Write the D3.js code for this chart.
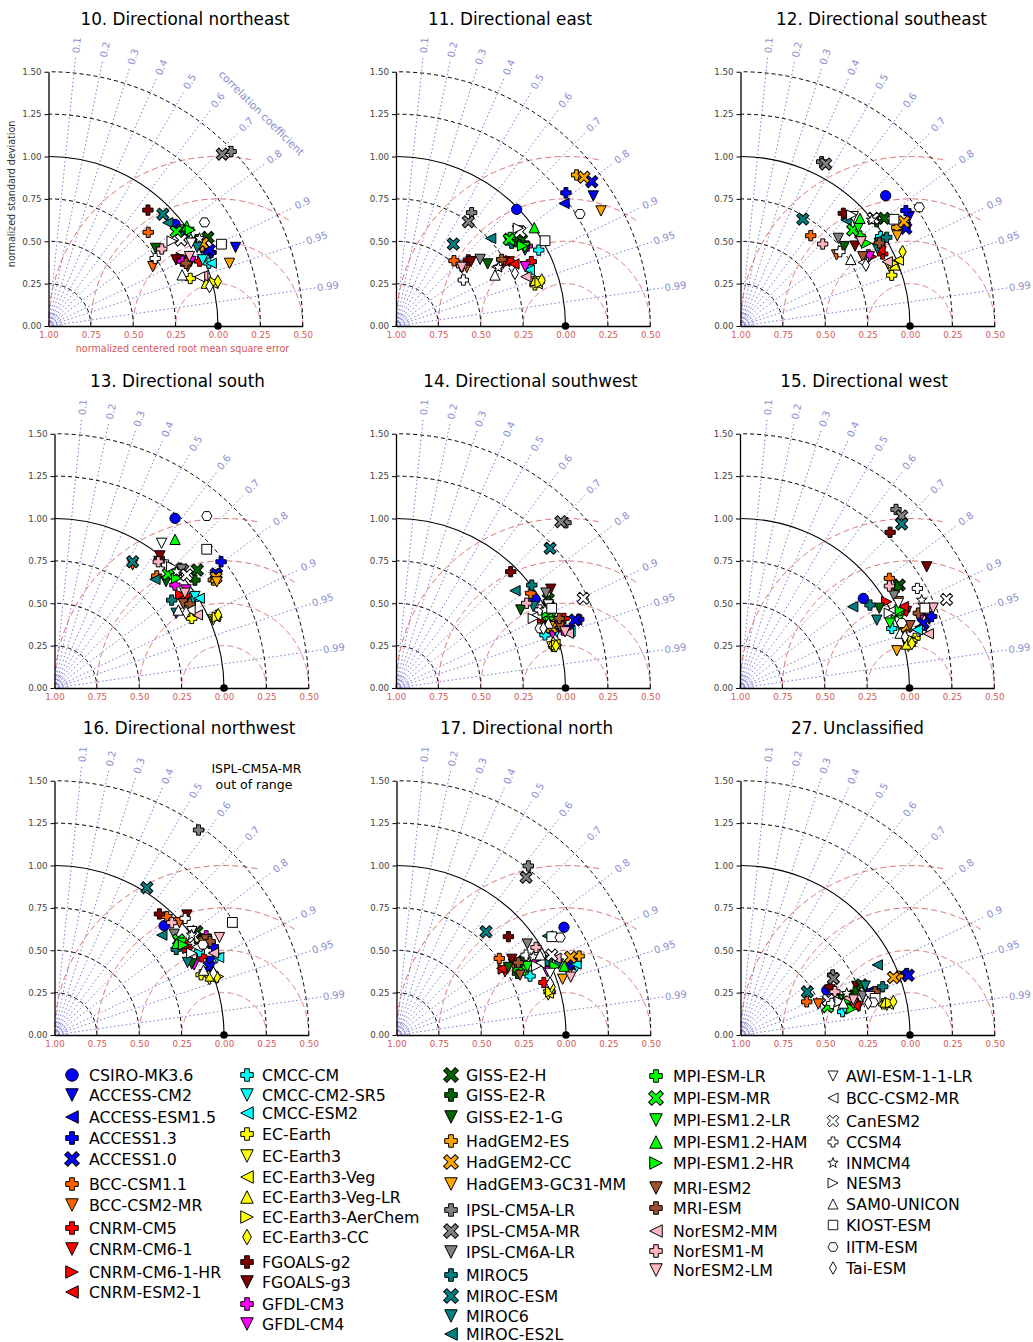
<!DOCTYPE html>
<html><head><meta charset="utf-8">
<script src="https://cdn.jsdelivr.net/npm/d3@7"></script>
<style>body{margin:0;background:#fff;} svg{font-family:"DejaVu Sans",sans-serif;}</style>
</head><body><svg id="chart" width="1033" height="1342"></svg>
<script>
// ---------- data ----------
const models = ["CSIRO-MK3.6","ACCESS-CM2","ACCESS-ESM1.5","ACCESS1.3","ACCESS1.0","BCC-CSM1.1","BCC-CSM2-MR","CNRM-CM5","CNRM-CM6-1","CNRM-CM6-1-HR","CNRM-ESM2-1","CMCC-CM","CMCC-CM2-SR5","CMCC-ESM2","EC-Earth","EC-Earth3","EC-Earth3-Veg","EC-Earth3-Veg-LR","EC-Earth3-AerChem","EC-Earth3-CC","FGOALS-g2","FGOALS-g3","GFDL-CM3","GFDL-CM4","GISS-E2-H","GISS-E2-R","GISS-E2-1-G","HadGEM2-ES","HadGEM2-CC","HadGEM3-GC31-MM","IPSL-CM5A-LR","IPSL-CM5A-MR","IPSL-CM6A-LR","MIROC5","MIROC-ESM","MIROC6","MIROC-ES2L","MPI-ESM-LR","MPI-ESM-MR","MPI-ESM1.2-LR","MPI-ESM1.2-HAM","MPI-ESM1.2-HR","MRI-ESM2","MRI-ESM","NorESM2-MM","NorESM1-M","NorESM2-LM","AWI-ESM-1-1-LR","BCC-CSM2-MR","CanESM2","CCSM4","INMCM4","NESM3","SAM0-UNICON","KIOST-ESM","IITM-ESM","Tai-ESM"];
const markerShapes = ["o","v","<","P","X","P","v","P","v",">","<","P","v","<","P","v","<","^",">","d","P","v","P","v","X","P","v","P","X","v","P","X","v","P","X","v","<","P","X","v","^",">","v","P","<","P","v","v","<","X","P","*",">","^","s","H","d"];
const markerColors = ["#0000ff","#0000ff","#0000ff","#0000ff","#0000ff","#ff6400","#ff6400","#ff0000","#ff0000","#ff0000","#ff0000","#00ffff","#00ffff","#00ffff","#ffff00","#ffff00","#ffff00","#ffff00","#ffff00","#ffff00","#800000","#800000","#ff00ff","#ff00ff","#006400","#006400","#006400","#ffa500","#ffa500","#ffa500","#808080","#808080","#808080","#008080","#008080","#008080","#008080","#00ff00","#00ff00","#00ff00","#00ff00","#00ff00","#a0522d","#a0522d","#ffb6c1","#ffb6c1","#ffb6c1","#ffffff","#ffffff","#ffffff","#ffffff","#ffffff","#ffffff","#ffffff","#ffffff","#ffffff","#ffffff"];
const panelTitles = ["10. Directional northeast","11. Directional east","12. Directional southeast","13. Directional south","14. Directional southwest","15. Directional west","16. Directional northwest","17. Directional north","27. Unclassified"];
const correlationTicks = [0.1,0.2,0.3,0.4,0.5,0.6,0.7,0.8,0.9,0.95,0.99];
const stdTicks = [0,0.25,0.5,0.75,1.0,1.25,1.5];

// normalized standard deviation / correlation, one pair of arrays per panel (model order as above)
const stdNE = [.958,1.197,1.025,1.053,1.050,.807,.708,.970,.874,.881,.858,1.016,.990,1.029,.882,.971,1.002,.964,1.012,1.033,.901,.848,.877,.923,1.076,1.013,.781,1.022,1.033,1.130,1.490,1.442,.968,.949,.944,.992,.931,.990,.937,.996,1.007,1.010,.893,.892,.957,.808,.927,.973,.937,.933,.745,1.030,.885,.844,1.129,1.105,.978];
const corNE = [.780,.922,.904,.911,.904,.729,.869,.919,.896,.889,.889,.931,.919,.933,.948,.968,.968,.965,.967,.967,.651,.888,.900,.911,.874,.864,.810,.887,.881,.945,.723,.711,.811,.831,.715,.884,.756,.820,.804,.832,.810,.828,.920,.910,.951,.827,.897,.865,.951,.839,.845,.865,.824,.934,.904,.833,.971];
const stdE = [.990,1.394,1.227,1.274,1.435,.515,.542,.884,.768,.779,.786,.954,.848,.853,.855,.870,.870,.864,.887,.901,.578,.583,.907,.839,.898,.865,.653,1.389,1.414,1.387,.804,.749,.633,.839,.590,.883,.761,.852,.841,.891,1.001,.884,.733,.737,.820,.525,.520,.910,.689,.919,.481,.696,.924,.657,1.013,1.271,.768];
const corE = [.719,.835,.808,.787,.805,.664,.770,.903,.870,.869,.885,.883,.921,.922,.959,.954,.958,.950,.958,.954,.739,.759,.854,.909,.825,.818,.828,.767,.784,.872,.555,.570,.784,.813,.573,.862,.734,.790,.794,.854,.815,.845,.863,.846,.935,.739,.746,.787,.862,.796,.826,.868,.781,.889,.868,.854,.914];
const stdSE = [1.151,1.187,1.134,1.190,1.133,.675,.705,.940,.938,.875,.937,.981,.953,.969,.941,.945,1.009,.980,.974,1.052,.900,.824,.863,.863,1.059,1.012,.771,1.090,1.144,1.067,1.081,1.080,.775,1.009,.730,.928,.882,.883,.871,.907,.949,.890,.829,.955,.945,.685,.868,.927,.815,1.009,.732,.995,.927,.760,1.103,1.266,.823];
const corSE = [.744,.839,.856,.820,.861,.614,.804,.892,.884,.884,.878,.843,.859,.849,.948,.929,.923,.930,.925,.909,.674,.820,.874,.881,.800,.794,.794,.846,.843,.867,.443,.465,.745,.855,.503,.870,.706,.799,.760,.767,.743,.836,.870,.858,.916,.708,.820,.718,.888,.777,.801,.778,.708,.856,.821,.833,.899];
const stdS = [1.228,1.166,1.166,1.233,1.167,.895,.860,.928,.920,.925,.936,.972,.989,1.005,.908,1.019,1.036,1.046,1.047,1.058,.984,.997,.935,.968,1.093,1.045,.909,1.133,1.155,1.144,1.023,1.028,1.026,.864,.876,.842,.873,.966,.950,.974,1.129,.969,.908,.940,.947,.964,.951,1.062,.922,1.026,.982,.995,.995,.863,1.215,1.355,.894];
const corS = [.579,.824,.812,.797,.817,.674,.536,.815,.826,.805,.822,.843,.838,.850,.892,.919,.914,.911,.917,.913,.628,.624,.760,.802,.771,.793,.724,.827,.825,.837,.723,.736,.731,.800,.526,.852,.679,.730,.706,.710,.630,.744,.837,.850,.890,.635,.809,.595,.867,.760,.674,.724,.695,.846,.739,.663,.868];
const stdSW = [.973,1.082,1.139,1.152,1.130,.972,.959,1.073,.949,.958,.947,.933,1.004,1.079,.963,.951,.973,.967,.981,.976,.964,1.083,1.045,.979,1.040,1.033,.868,.973,.986,.978,1.399,1.382,1.047,1.005,1.227,.942,.907,1.010,.997,.984,1.005,.992,1.033,1.047,1.067,.919,1.051,1.024,.935,1.225,.966,.992,.908,.977,1.032,.920,.938];
const corSW = [.843,.949,.936,.936,.935,.818,.886,.924,.906,.903,.898,.942,.944,.951,.967,.967,.964,.959,.966,.967,.702,.843,.945,.944,.864,.870,.848,.924,.932,.929,.717,.704,.845,.797,.741,.860,.774,.900,.902,.904,.894,.896,.937,.920,.953,.839,.949,.878,.888,.902,.879,.886,.892,.920,.890,.924,.927];
const stdW = [.899,1.188,1.131,1.207,1.146,1.093,1.064,1.076,1.081,1.004,1.076,.962,1.113,1.101,1.073,1.023,1.040,1.017,1.058,1.047,1.276,1.313,1.150,1.155,1.119,1.102,.947,1.035,1.048,.951,1.399,1.393,1.059,.910,1.359,.901,.820,1.037,1.025,.964,1.036,1.050,1.068,1.141,1.156,1.067,1.233,1.059,.993,1.326,1.200,1.191,.985,.998,1.188,1.028,1.019];
const corW = [.809,.940,.947,.937,.943,.806,.878,.904,.909,.862,.895,.931,.954,.950,.962,.971,.965,.967,.964,.968,.694,.839,.924,.928,.840,.842,.868,.940,.938,.973,.658,.685,.858,.843,.702,.896,.811,.901,.903,.918,.896,.899,.939,.922,.961,.826,.924,.882,.891,.919,.872,.900,.894,.946,.918,.928,.955];
const stdNW = [.914,1.015,.990,1.073,.999,.963,.991,.984,.930,.938,.925,.986,1.059,1.071,.935,.970,.998,.982,1.027,1.017,.945,1.054,1.069,.922,1.038,1.017,.912,1.034,1.041,1.015,1.478,null,.923,.878,1.026,.894,.865,.923,.922,.926,.902,.928,1.056,1.071,1.055,.958,1.130,1.014,.988,1.004,1.033,1.002,.943,.959,1.242,1.025,1.006];
const corNW = [.708,.904,.918,.874,.915,.688,.744,.883,.840,.839,.819,.867,.904,.904,.925,.942,.940,.935,.942,.942,.655,.741,.837,.894,.809,.841,.888,.840,.848,.846,.575,null,.765,.818,.531,.878,.732,.802,.794,.811,.800,.820,.847,.857,.889,.722,.861,.799,.850,.817,.746,.808,.859,.917,.845,.854,.932];
const stdN = [1.175,1.109,1.104,1.138,1.124,.756,.806,.923,.741,.740,.735,.861,1.137,1.139,.941,.926,.929,.947,.945,.959,.879,.814,.924,.965,.864,.801,.771,1.174,1.125,1.034,1.265,1.204,.940,.992,.806,1.043,1.065,.843,.824,.871,1.069,1.020,.810,.836,1.044,.972,1.083,.976,.947,1.030,.898,.930,.922,.970,1.084,1.124,.956];
const corN = [.841,.931,.927,.925,.928,.802,.855,.942,.864,.851,.845,.915,.935,.930,.962,.967,.964,.957,.963,.955,.751,.836,.884,.922,.866,.891,.856,.918,.913,.948,.615,.635,.821,.897,.655,.916,.836,.891,.872,.886,.925,.917,.900,.860,.901,.847,.949,.928,.894,.889,.851,.868,.897,.873,.845,.859,.948];
const stdUN = [.574,1.030,.796,1.046,1.051,.437,.494,.711,.715,.679,.697,.618,.637,.609,.863,.881,.891,.875,.906,.923,.600,.743,.614,.604,.773,.722,.675,.994,.964,.815,.649,.642,.757,.886,.469,.790,.907,.657,.541,.660,.654,.675,.690,.834,.672,.613,.697,.797,.585,.557,.570,.673,.619,.635,.823,.806,.777];
const corUN = [.887,.943,.947,.938,.942,.894,.929,.965,.972,.965,.969,.975,.969,.947,.977,.980,.979,.975,.978,.977,.880,.923,.939,.940,.924,.936,.942,.937,.936,.961,.838,.854,.953,.947,.840,.931,.890,.939,.951,.950,.943,.973,.964,.952,.946,.909,.955,.959,.936,.929,.945,.931,.948,.955,.965,.971,.970];

// ---------- layout ----------
const panelStd = [stdNE,stdE,stdSE,stdS,stdSW,stdW,stdNW,stdN,stdUN];
const panelCor = [corNE,corE,corSE,corS,corSW,corW,corNW,corN,corUN];
const panelLayout = [
  {ox:48.5, oy:326, tx:185},{ox:396, oy:326, tx:510},{ox:740.5, oy:326, tx:881.5},
  {ox:54.5, oy:688, tx:177.5},{ox:396, oy:688, tx:530.5},{ox:740, oy:688, tx:864},
  {ox:54.5, oy:1035, tx:189},{ox:396.5, oy:1035, tx:526.5},{ox:740.5, oy:1035, tx:857.5}
];
const R = 254.25; // pixels for 1.5
const CORR_COL = "#7c7cd4", CORR_TXT = "#8e8ed0", RMS_COL = "#d45a5a";

const svg = d3.select("#chart");

function markerPath(shape, m) {
  const h = m / 2;
  const plus = (e, a) => `M${-a},${-e}H${a}V${-a}H${e}V${a}H${a}V${e}H${-a}V${a}H${-e}V${-a}H${-a}Z`;
  switch (shape) {
    case "o": return `M${h},0A${h},${h} 0 1,1 ${-h},0A${h},${h} 0 1,1 ${h},0Z`;
    case "^": case "v": case "<": case ">": return `M0,${-h}L${-h},${h}L${h},${h}Z`;
    case "P": return plus(h, m * 0.19);
    case "X": return plus(h * 1.3, m * 0.18);
    case "d": return `M0,${-h*1.25}L${h*0.7},0L0,${h*1.25}L${-h*0.7},0Z`;
    case "s": { const s = h * 0.95; return `M${-s},${-s}H${s}V${s}H${-s}Z`; }
    case "H": { const p = d3.range(6).map(k => [h * Math.cos(k * Math.PI / 3), h * Math.sin(k * Math.PI / 3)]);
      return "M" + p.map(q => q.join(",")).join("L") + "Z"; }
    case "*": { const p = d3.range(10).map(k => { const rr = k % 2 ? h * 0.45 : h * 1.1; const a = -Math.PI / 2 + k * Math.PI / 5; return [rr * Math.cos(a), rr * Math.sin(a)]; });
      return "M" + p.map(q => q.join(",")).join("L") + "Z"; }
  }
}
function markerRot(shape) {
  return shape === "v" ? 180 : shape === "<" ? -90 : shape === ">" ? 90 : shape === "X" ? 45 : 0;
}

panelLayout.forEach((L, pi) => {
  const g = svg.append("g").attr("transform", `translate(${L.ox},${L.oy})`);
  const r = d3.scaleLinear().domain([0, 1.5]).range([0, R]);
  const yS = d3.scaleLinear().domain([0, 1.5]).range([0, -R]);
  const px = (s, c) => r(s * c), py = (s, c) => -r(s * Math.sqrt(1 - c * c));

  // small arcs at origin
  [0.02, 0.035, 0.05, 0.065, 0.08].forEach(v => {
    g.append("path").attr("d", `M${r(v)},0A${r(v)},${r(v)} 0 0,0 0,${-r(v)}`)
      .attr("fill", "none").attr("stroke", CORR_COL).attr("stroke-width", 0.8).attr("stroke-dasharray", "1.5,1.5");
  });

  // correlation lines
  correlationTicks.forEach(c => {
    const th = Math.acos(c);
    g.append("line").attr("x1", 0).attr("y1", 0)
      .attr("x2", r(1.6 * Math.cos(th))).attr("y2", -r(1.6 * Math.sin(th)))
      .attr("stroke", CORR_COL).attr("stroke-width", 1).attr("stroke-dasharray", "1.5,2.5");
    const lx = r(1.665 * Math.cos(th)), ly = -r(1.665 * Math.sin(th));
    g.append("text").attr("transform", `translate(${lx},${ly}) rotate(${-th * 180 / Math.PI})`)
      .attr("text-anchor", "middle").attr("dominant-baseline", "central")
      .attr("font-size", 10).attr("fill", CORR_TXT).text(String(c));
  });

  // centered RMS arcs around reference point
  [0.25, 0.5, 0.75, 1.0].forEach(rho => {
    const pts = [];
    for (let k = 0; k <= 400; k++) {
      const phi = Math.PI * k / 400;
      const x = 1 + rho * Math.cos(phi), y = rho * Math.sin(phi);
      if (x >= -1e-9 && Math.hypot(x, y) <= 1.55) pts.push([r(x), -r(y)]);
    }
    g.append("path").attr("d", d3.line()(pts)).attr("fill", "none")
      .attr("stroke", RMS_COL).attr("stroke-width", 0.9).attr("stroke-dasharray", "6,3.5");
  });

  // std arcs
  [0.25, 0.5, 0.75, 1.0, 1.25, 1.5].forEach(v => {
    g.append("path").attr("d", `M${r(v)},0A${r(v)},${r(v)} 0 0,0 0,${-r(v)}`)
      .attr("fill", "none").attr("stroke", "#000").attr("stroke-width", v === 1 ? 1.1 : 1)
      .attr("stroke-dasharray", v === 1 ? null : "4,3");
  });

  // axes
  const ya = g.append("g").call(d3.axisLeft(yS).tickValues(stdTicks).tickFormat(d3.format(".2f")).tickSize(4).tickSizeOuter(0));
  ya.select(".domain").attr("stroke-width", 1.3);
  ya.selectAll("text").attr("font-size", 8.7).attr("fill", "#444").attr("font-family", "DejaVu Sans");
  const xa = g.append("g").call(d3.axisBottom(r).tickValues(stdTicks).tickFormat(v => Math.abs(1 - v).toFixed(2)).tickSize(0).tickPadding(6).tickSizeOuter(0));
  xa.select(".domain").attr("stroke-width", 1.3);
  xa.selectAll("text").attr("font-size", 8.7).attr("fill", RMS_COL).attr("font-family", "DejaVu Sans");

  // reference point
  g.append("circle").attr("cx", r(1)).attr("cy", 0).attr("r", 3.8).attr("fill", "#000");

  // model markers
  const std = panelStd[pi], cor = panelCor[pi];
  const pts = models.map((name, i) => ({ i, s: std[i], c: cor[i] })).filter(d => d.s != null);
  g.append("g").selectAll("path").data(pts).join("path")
    .attr("d", d => markerPath(markerShapes[d.i], 10.3))
    .attr("transform", d => `translate(${px(d.s, d.c)},${py(d.s, d.c)}) rotate(${markerRot(markerShapes[d.i])})`)
    .attr("fill", d => markerColors[d.i]).attr("stroke", "#000").attr("stroke-width", 1);

  // title
  svg.append("text").attr("x", L.tx).attr("y", L.oy - 301).attr("text-anchor", "middle")
    .attr("font-size", 16.8).attr("fill", "#000").text(panelTitles[pi]);

  if (pi === 0) {
    g.append("text").attr("transform", `translate(-34,${-R / 2 - 5}) rotate(-90)`).attr("text-anchor", "middle")
      .attr("font-size", 9.6).attr("fill", "#333").text("normalized standard deviation");
    g.append("text").attr("x", 134).attr("y", 26).attr("text-anchor", "middle")
      .attr("font-size", 9.6).attr("fill", RMS_COL).text("normalized centered root mean square error");
    const a = Math.PI / 4;
    g.append("text").attr("transform", `translate(${r(1.778 * Math.cos(a))},${-r(1.778 * Math.sin(a))}) rotate(45)`)
      .attr("text-anchor", "middle").attr("dominant-baseline", "central")
      .attr("font-size", 10.6).attr("fill", CORR_TXT).text("correlation coefficient");
  }
  if (pi === 6) {
    svg.append("text").attr("x", 256.5).attr("y", 773).attr("text-anchor", "middle").attr("font-size", 12.5).text("ISPL-CM5A-MR");
    svg.append("text").attr("x", 254).attr("y", 789).attr("text-anchor", "middle").attr("font-size", 12.5).text("out of range");
  }
});

// ---------- legend ----------
const legendCols = [
  {mx:72, tx:89, idx:[0,1,2,3,4,5,6,7,8,9,10], ys:[1075,1095,1117,1138,1159,1184,1205,1228,1249,1272,1292]},
  {mx:247, tx:262, idx:[11,12,13,14,15,16,17,18,19,20,21,22,23], ys:[1075,1095,1113,1134,1156,1177,1197,1217,1237,1262,1282,1304,1324]},
  {mx:451, tx:466, idx:[24,25,26,27,28,29,30,31,32,33,34,35,36], ys:[1075,1095,1117,1141,1162,1184,1210,1231,1252,1275,1296,1316,1334]},
  {mx:656, tx:673, idx:[37,38,39,40,41,42,43,44,45,46], ys:[1076,1098,1120,1142,1163,1188,1208,1231,1251,1270]},
  {mx:833, tx:846, idx:[47,48,49,50,51,52,53,54,55,56], ys:[1076,1098,1121,1142,1163,1183,1204,1225,1247,1268], small:true}
];
const lg = svg.append("g");
legendCols.forEach(col => {
  col.idx.forEach((i, k) => {
    const y = col.ys[k];
    const sh = markerShapes[i];
    lg.append("path").attr("d", markerPath(sh, col.small ? 10 : 12.5))
      .attr("transform", `translate(${col.mx},${y}) rotate(${markerRot(sh)})`)
      .attr("fill", markerColors[i]).attr("stroke", "#000").attr("stroke-width", col.small ? 0.9 : 1);
    lg.append("text").attr("x", col.tx).attr("y", y + 5.5).attr("font-size", 15.8).attr("fill", "#000").text(models[i]);
  });
});
</script></body></html>
